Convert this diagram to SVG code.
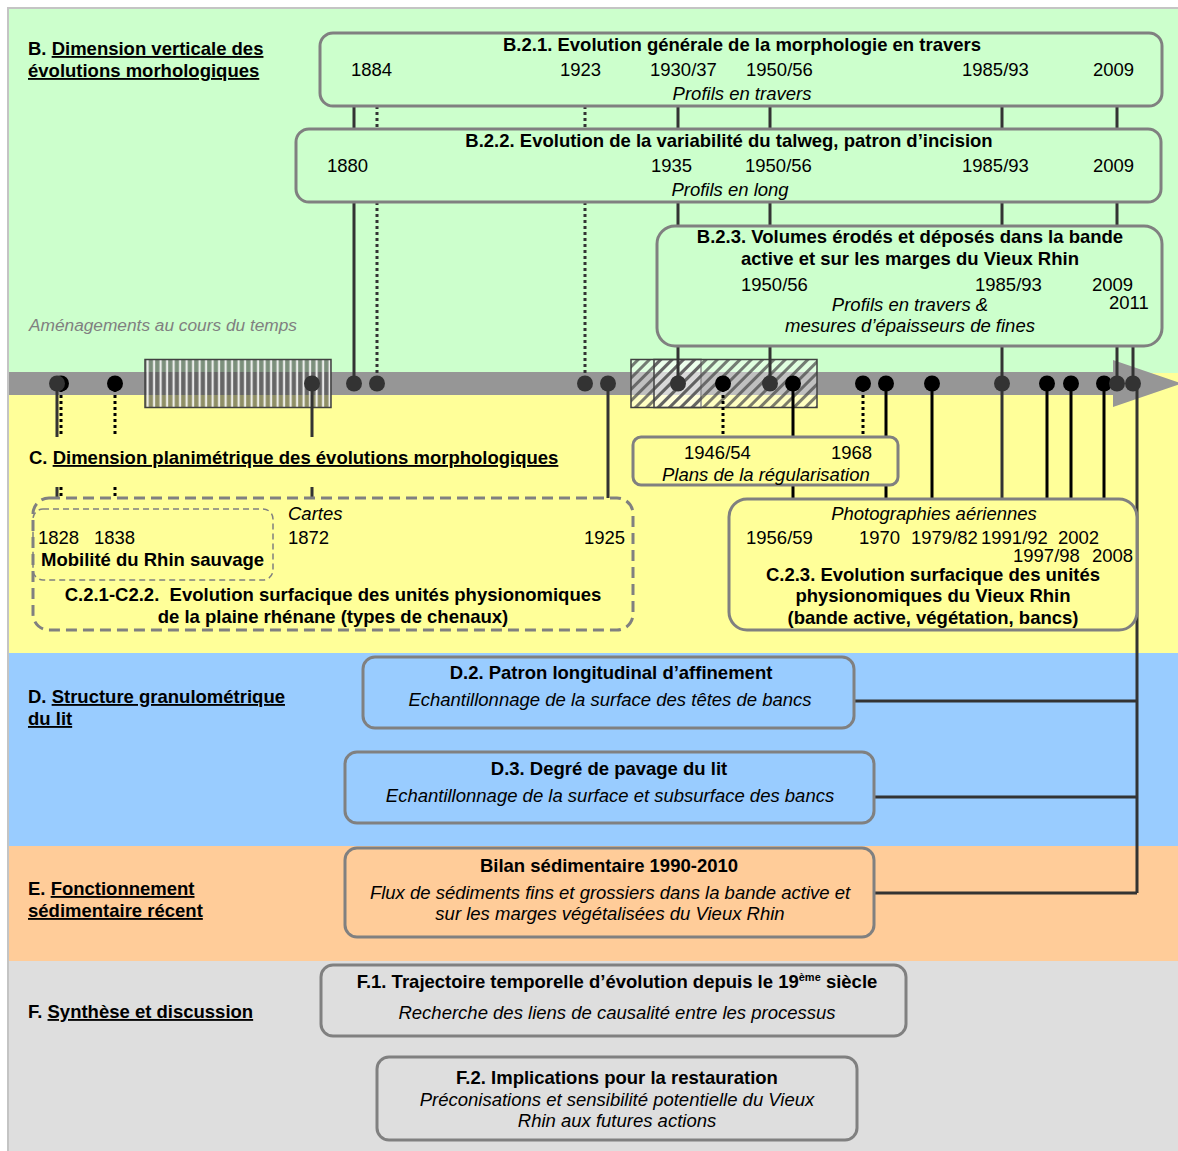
<svg xmlns="http://www.w3.org/2000/svg" width="1178" height="1151" viewBox="0 0 1178 1151">
<defs>
<style>
text{font-family:"Liberation Sans",Arial,sans-serif;font-size:18.5px;fill:#000}
.b{font-weight:bold}
.i{font-style:italic}
.c{text-anchor:middle}
.u{text-decoration:underline}
.sm{font-size:17.3px}
.box{stroke:#808080;stroke-width:3}
.dash{fill:none;stroke:#808080;stroke-width:3;stroke-dasharray:11 6}
.dash2{fill:none;stroke:#808080;stroke-width:1.5;stroke-dasharray:6 4}
.ln{stroke:#333;stroke-width:3;fill:none}
.lk{stroke:#000;stroke-width:3;fill:none}
.dt{stroke:#333;stroke-width:3;stroke-dasharray:3 3;fill:none}
.dtk{stroke:#000;stroke-width:3;stroke-dasharray:3 3;fill:none}
.dd{fill:#333}
.dk{fill:#000}
.hatch{stroke:#404040;stroke-width:1.5}
</style>
<pattern id="vstripe" width="6.5" height="7" patternUnits="userSpaceOnUse">
<rect width="6.5" height="7" fill="#444" fill-opacity="0.6"/>
<rect x="3.5" width="2.2" height="7" fill="#fff" fill-opacity="0.85"/>
</pattern>
<pattern id="diag" width="8" height="8" patternUnits="userSpaceOnUse" patternTransform="rotate(45)">
<rect width="8" height="8" fill="#fff" fill-opacity="0.4"/>
<rect width="3" height="8" fill="#444" fill-opacity="0.7"/>
</pattern>
</defs>

<g id="backgrounds">
<rect x="0" y="0" width="1178" height="1151" fill="#fff"/>
<rect x="9" y="9" width="1169" height="364" fill="#ccffcc"/>
<rect x="9" y="373" width="1169" height="280" fill="#ffff99"/>
<rect x="9" y="653" width="1169" height="193" fill="#99ccff"/>
<rect x="9" y="846" width="1169" height="115" fill="#ffcc99"/>
<rect x="9" y="961" width="1169" height="190" fill="#dedede"/>
<path d="M8 1151 V8 H1178" fill="none" stroke="#c4c4c4" stroke-width="2"/>
</g>

<g id="section-labels">
<text x="28" y="55" class="b">B. <tspan class="u">Dimension verticale des</tspan></text>
<text x="28" y="77" class="b u">évolutions morhologiques</text>
<text x="29" y="331" class="i sm" style="fill:#808080">Aménagements au cours du temps</text>
<text x="29" y="464" class="b">C. <tspan class="u">Dimension planimétrique des évolutions morphologiques</tspan></text>
<text x="28" y="703" class="b">D. <tspan class="u">Structure granulométrique</tspan></text>
<text x="28" y="725" class="b u">du lit</text>
<text x="28" y="895" class="b">E. <tspan class="u">Fonctionnement</tspan></text>
<text x="28" y="917" class="b u">sédimentaire récent</text>
<text x="28" y="1018" class="b">F. <tspan class="u">Synthèse et discussion</tspan></text>
</g>

<g id="timeline">
<rect x="9" y="372" width="1106" height="23" fill="#969696"/>
<polygon points="1113,360 1182,383.5 1113,407" fill="#969696"/>
<rect x="145" y="359.5" width="186" height="48" fill="url(#vstripe)" class="hatch"/>
<rect x="631" y="359.5" width="70" height="48" fill="url(#diag)" class="hatch"/>
<rect x="654" y="359.5" width="163" height="48" fill="url(#diag)" class="hatch"/>
</g>

<g id="connectors">
<path class="ln" d="M354 106V129 M678 106V129 M770 106V129 M1002 106V129 M1117 106V129"/>
<path class="dt" d="M377 106V129 M585 106V129"/>
<path class="ln" d="M354 202V383 M678 202V226 M770 202V226 M1002 202V226 M1117 202V226"/>
<path class="dt" d="M377 202V383 M585 202V383"/>
<path class="ln" d="M678 346V383 M770 346V383 M1002 346V383 M1117 346V383 M1133 346V383"/>
<path class="ln" d="M57 383V437 M57 487V498 M312 383V437 M312 487V498 M608 383V498"/>
<path class="dtk" d="M61 383V437 M61 487V498 M115 383V437 M115 487V498"/>
<path class="dtk" d="M723 383V437 M863 383V437"/>
<path class="lk" d="M793 383V437 M793 485V499 M886 383V437 M886 485V499 M932 383V499 M1047 383V499 M1071 383V499 M1104 383V499"/>
<path class="ln" d="M1002 383V499"/>
<path class="ln" d="M1137 383V893 M855 701H1137 M874 797H1137 M874 893H1137"/>
</g>

<g id="dots">
<circle cx="61" cy="383.5" r="8" class="dk"/>
<circle cx="57" cy="383.5" r="8" class="dd"/>
<circle cx="115" cy="383.5" r="8" class="dk"/>
<circle cx="312" cy="383.5" r="8" class="dd"/>
<circle cx="354" cy="383.5" r="8" class="dd"/>
<circle cx="377" cy="383.5" r="8" class="dd"/>
<circle cx="585" cy="383.5" r="8" class="dd"/>
<circle cx="608" cy="383.5" r="8" class="dd"/>
<circle cx="678" cy="383.5" r="8" class="dd"/>
<circle cx="723" cy="383.5" r="8" class="dk"/>
<circle cx="770" cy="383.5" r="8" class="dd"/>
<circle cx="793" cy="383.5" r="8" class="dk"/>
<circle cx="863" cy="383.5" r="8" class="dk"/>
<circle cx="886" cy="383.5" r="8" class="dk"/>
<circle cx="932" cy="383.5" r="8" class="dk"/>
<circle cx="1002" cy="383.5" r="8" class="dd"/>
<circle cx="1047" cy="383.5" r="8" class="dk"/>
<circle cx="1071" cy="383.5" r="8" class="dk"/>
<circle cx="1104" cy="383.5" r="8" class="dk"/>
<circle cx="1117" cy="383.5" r="8" class="dd"/>
<circle cx="1133" cy="383.5" r="8" class="dd"/>
</g>

<g id="B21">
<rect x="320" y="33" width="842" height="73" rx="13" class="box" fill="#ccffcc"/>
<text x="742" y="51" class="b c">B.2.1. Evolution générale de la morphologie en travers</text>
<text x="351" y="76">1884</text>
<text x="560" y="76">1923</text>
<text x="650" y="76">1930/37</text>
<text x="746" y="76">1950/56</text>
<text x="962" y="76">1985/93</text>
<text x="1093" y="76">2009</text>
<text x="742" y="100" class="i c">Profils en travers</text>
</g>

<g id="B22">
<rect x="296" y="129" width="865" height="73" rx="13" class="box" fill="#ccffcc"/>
<text x="729" y="147" class="b c">B.2.2. Evolution de la variabilité du talweg, patron d’incision</text>
<text x="327" y="172">1880</text>
<text x="651" y="172">1935</text>
<text x="745" y="172">1950/56</text>
<text x="962" y="172">1985/93</text>
<text x="1093" y="172">2009</text>
<text x="730" y="196" class="i c">Profils en long</text>
</g>

<g id="B23">
<rect x="657" y="226" width="505" height="120" rx="18" class="box" fill="#ccffcc"/>
<text x="910" y="243" class="b c">B.2.3. Volumes érodés et déposés dans la bande</text>
<text x="910" y="265" class="b c">active et sur les marges du Vieux Rhin</text>
<text x="741" y="291">1950/56</text>
<text x="975" y="291">1985/93</text>
<text x="1092" y="291">2009</text>
<text x="1109" y="309">2011</text>
<text x="910" y="311" class="i c">Profils en travers &amp;</text>
<text x="910" y="332" class="i c">mesures d’épaisseurs de fines</text>
</g>

<g id="Plans">
<rect x="633" y="437" width="265" height="48" rx="8" class="box" fill="#ffff99"/>
<text x="684" y="459">1946/54</text>
<text x="831" y="459">1968</text>
<text x="662" y="481" class="i">Plans de la régularisation</text>
</g>

<g id="C21-C22">
<rect x="33" y="498" width="600" height="132" rx="16" class="dash"/>
<rect x="33" y="509" width="240" height="71" rx="10" class="dash2"/>
<text x="288" y="520" class="i">Cartes</text>
<text x="38" y="544">1828</text>
<text x="94" y="544">1838</text>
<text x="288" y="544">1872</text>
<text x="584" y="544">1925</text>
<text x="41" y="566" class="b">Mobilité du Rhin sauvage</text>
<text x="333" y="601" class="b c">C.2.1-C2.2. &#160;Evolution surfacique des unités physionomiques</text>
<text x="333" y="623" class="b c">de la plaine rhénane (types de chenaux)</text>
</g>

<g id="C23">
<rect x="729" y="499" width="408" height="131" rx="18" class="box" fill="#ffff99"/>
<text x="934" y="520" class="i c">Photographies aériennes</text>
<text x="746" y="544">1956/59</text>
<text x="859" y="544">1970</text>
<text x="911" y="544">1979/82</text>
<text x="981" y="544">1991/92</text>
<text x="1058" y="544">2002</text>
<text x="1013" y="562">1997/98</text>
<text x="1092" y="562">2008</text>
<text x="933" y="581" class="b c">C.2.3. Evolution surfacique des unités</text>
<text x="933" y="602" class="b c">physionomiques du Vieux Rhin</text>
<text x="933" y="624" class="b c">(bande active, végétation, bancs)</text>
</g>

<g id="D2">
<rect x="363" y="657" width="491" height="71" rx="12" class="box" fill="#99ccff"/>
<text x="611" y="679" class="b c">D.2. Patron longitudinal d’affinement</text>
<text x="610" y="706" class="i c">Echantillonnage de la surface des têtes de bancs</text>
</g>

<g id="D3">
<rect x="345" y="752" width="529" height="71" rx="12" class="box" fill="#99ccff"/>
<text x="609" y="775" class="b c">D.3. Degré de pavage du lit</text>
<text x="610" y="802" class="i c">Echantillonnage de la surface et subsurface des bancs</text>
</g>

<g id="Bilan">
<rect x="345" y="848" width="529" height="89" rx="12" class="box" fill="#ffcc99"/>
<text x="609" y="872" class="b c">Bilan sédimentaire 1990-2010</text>
<text x="610" y="899" class="i c">Flux de sédiments fins et grossiers dans la bande active et</text>
<text x="610" y="920" class="i c">sur les marges végétalisées du Vieux Rhin</text>
</g>

<g id="F1">
<rect x="321" y="965" width="585" height="71" rx="12" class="box" fill="#dedede"/>
<text x="617" y="988" class="b c">F.1. Trajectoire temporelle d’évolution depuis le 19<tspan dy="-7" style="font-size:11px">ème</tspan><tspan dy="7"> siècle</tspan></text>
<text x="617" y="1019" class="i c">Recherche des liens de causalité entre les processus</text>
</g>

<g id="F2">
<rect x="377" y="1057" width="480" height="83" rx="12" class="box" fill="#dedede"/>
<text x="617" y="1084" class="b c">F.2. Implications pour la restauration</text>
<text x="617" y="1106" class="i c">Préconisations et sensibilité potentielle du Vieux</text>
<text x="617" y="1127" class="i c">Rhin aux futures actions</text>
</g>
</svg>
